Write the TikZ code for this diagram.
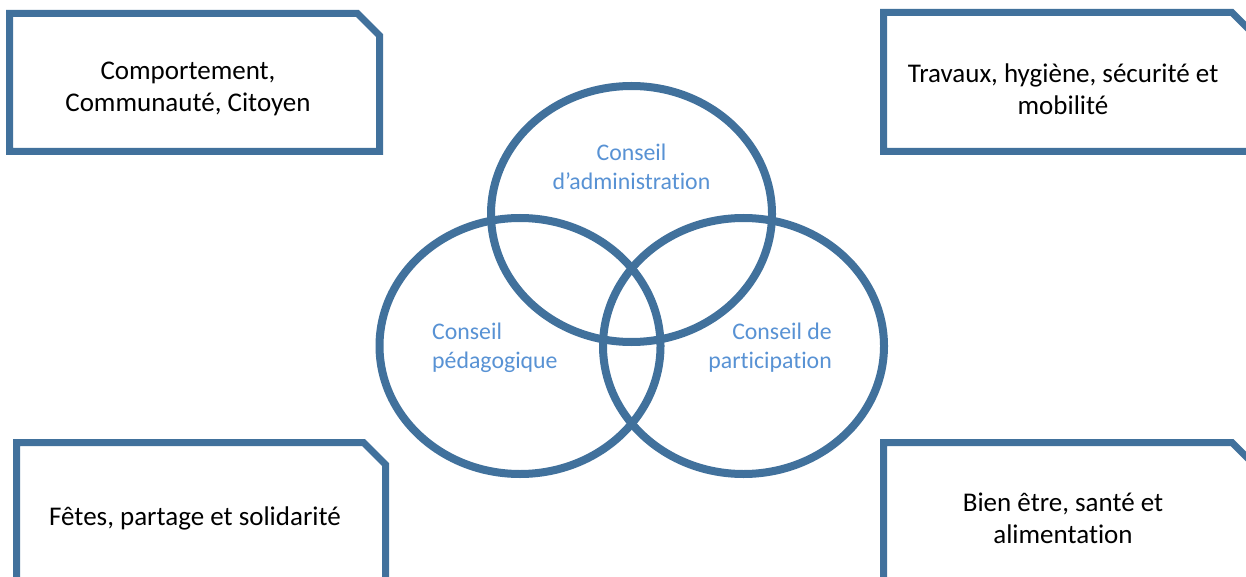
\documentclass[tikz,border=0pt]{standalone}
\usepackage{fontspec}
\setmainfont{Carlito}[Ligatures=NoCommon]
\usetikzlibrary{shapes.geometric}
\definecolor{edge}{RGB}{65,113,156}
\definecolor{lbl}{RGB}{88,146,212}
\tikzset{
  boxline/.style={draw=edge, line width=7pt, line join=miter},
  venn/.style={ellipse, draw=edge, line width=8pt, inner sep=0pt, minimum width=281pt, minimum height=256pt},
  boxtext/.style={align=center, font=\fontsize{27}{32}\selectfont, text=black, inner sep=0pt},
  venntext/.style={font=\fontsize{23.8}{29}\selectfont, text=lbl, inner sep=0pt}
}
\begin{document}
\begin{tikzpicture}[x=1pt,y=-1pt]
\useasboundingbox (0,0) rectangle (1246,577);
\clip (0,0) rectangle (1246,577);
\fill[white] (0,0) rectangle (1246,577);
% boxes
\draw[boxline] (9.5,13.5) -- (357.5,13.5) -- (379.5,35.5) -- (379.5,151.5) -- (9.5,151.5) -- cycle;
\draw[boxline] (1254,151.5) -- (883.5,151.5) -- (883.5,12.5) -- (1232,12.5) -- (1254,34.5);
\draw[boxline] (16.5,600) -- (16.5,442.5) -- (363.5,442.5) -- (385.5,464.5) -- (385.5,600);
\draw[boxline] (883.5,600) -- (883.5,442.5) -- (1232,442.5) -- (1254,464.5);
\node[boxtext] (tl) at (188,89) {Comportement,\\Communauté, Citoyen};
\node[boxtext] (tr) at (1063,89) {Travaux, hygiène, sécurité et\\mobilité};
\node[boxtext] (bl) at (195,518) {Fêtes, partage et solidarité};
\node[boxtext] (br) at (1063,518) {Bien être, santé et\\alimentation};
% venn
\node[venn] (ca) at (631.5,214) {};
\node[venn] (cp) at (520,346) {};
\node[venn] (cq) at (743.5,346) {};
\node[venntext, align=center] (la) at (631.5,167) {Conseil\\d’administration};
\node[venntext, align=left, anchor=west] (lp) at (432,348) {Conseil\\pédagogique};
\node[venntext, align=right, anchor=east] (lq) at (832,348) {Conseil de\\participation};
\end{tikzpicture}
\end{document}
